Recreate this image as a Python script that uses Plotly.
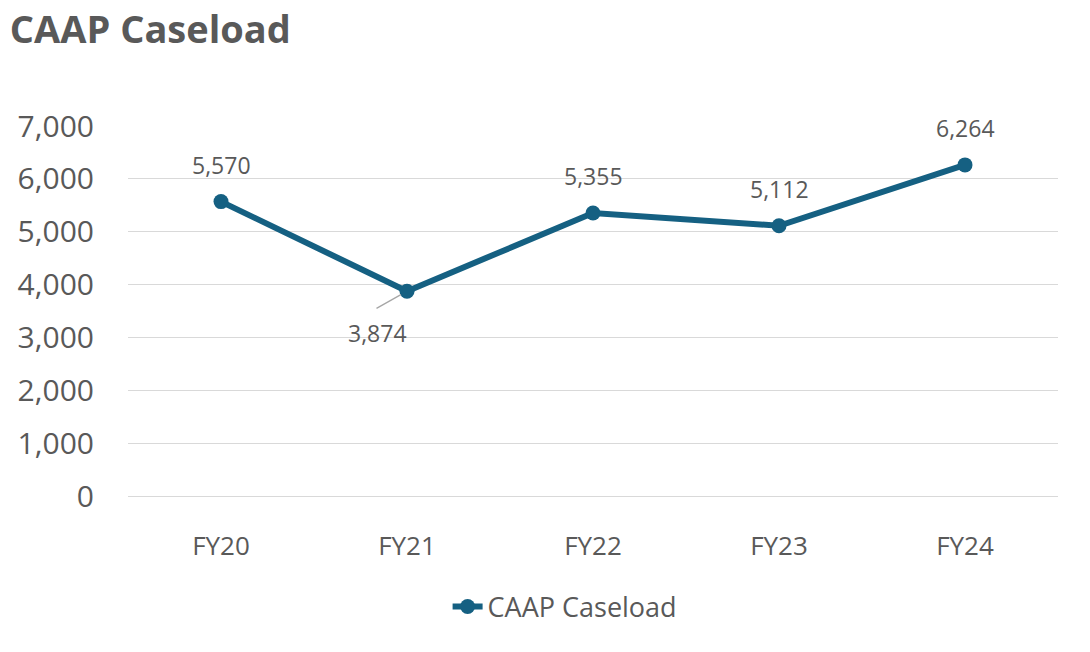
import plotly.graph_objects as go

categories = ["FY20", "FY21", "FY22", "FY23", "FY24"]
caseload = [5570, 3874, 5355, 5112, 6264]
y_ticks = [0, 1000, 2000, 3000, 4000, 5000, 6000, 7000]
label_below = [False, True, False, False, False]

FONT = "Open Sans, Noto Sans, sans-serif"
GREY = "#595959"
LINE = "#156082"

fig = go.Figure()
fig.add_trace(go.Scatter(
    x=categories, y=caseload, mode="lines+markers", name="CAAP Caseload",
    line=dict(color=LINE, width=6), marker=dict(size=15, color=LINE),
    hoverinfo="skip",
))

for c, v, below in zip(categories, caseload, label_below):
    if below:
        fig.add_annotation(x=c, y=v, text=f"{v:,}", showarrow=False, xshift=-30, yshift=-42,
                           font=dict(size=23, color=GREY, family=FONT))
        fig.add_annotation(x=c, y=v, text="", showarrow=True, arrowhead=0,
                           arrowwidth=1.3, arrowcolor="#a6a6a6", ax=-32, ay=18, standoff=7)
    else:
        fig.add_annotation(x=c, y=v, text=f"{v:,}", showarrow=False, yshift=37,
                           font=dict(size=23, color=GREY, family=FONT))

fig.update_layout(
    width=1090, height=652,
    paper_bgcolor="white", plot_bgcolor="white",
    margin=dict(l=128, r=32, t=126, b=156),
    title=dict(text="<b>CAAP Caseload</b>", x=0.009, xanchor="left", y=0.955, yanchor="middle",
               font=dict(size=38, color=GREY, family=FONT)),
    font=dict(family=FONT, color=GREY),
    showlegend=True,
    legend=dict(orientation="h", x=0.47, xanchor="center", y=-0.3, yanchor="middle",
                font=dict(size=27, color=GREY, family=FONT)),
    xaxis=dict(type="category", range=[-0.5, 4.5], showgrid=False, showline=False,
               ticks="", tickfont=dict(size=26, color=GREY, family=FONT), ticklabelstandoff=32),
    yaxis=dict(range=[0, 7000], tickvals=y_ticks, tickformat=",", showgrid=True,
               gridcolor="#d9d9d9", gridwidth=1.3, zeroline=True, zerolinecolor="#d9d9d9",
               zerolinewidth=1.3, showline=False, ticks="",
               tickfont=dict(size=30, color=GREY, family=FONT), ticklabelstandoff=33),
)

fig.write_html("out.html")
